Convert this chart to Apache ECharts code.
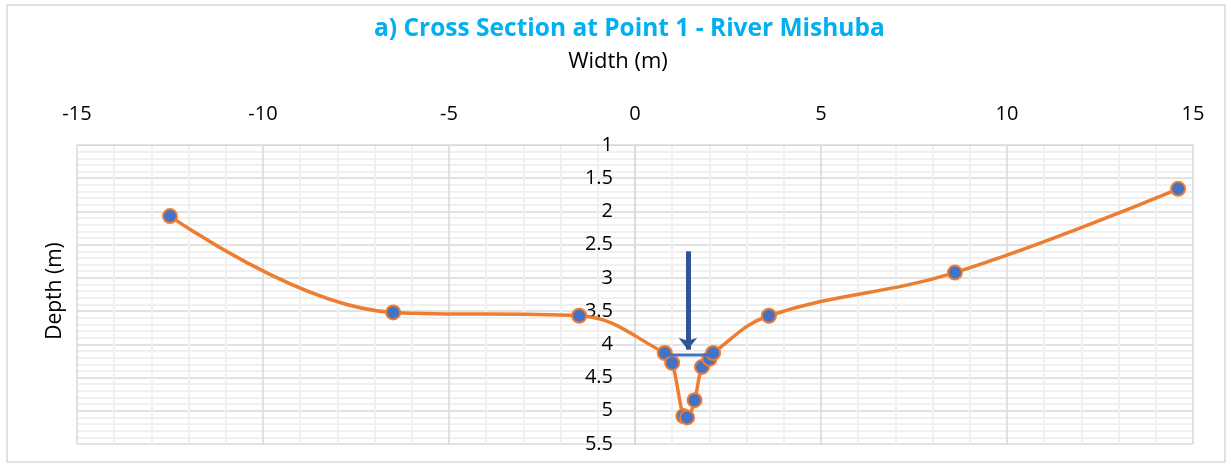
<!DOCTYPE html>
<html>
<head>
<meta charset="utf-8">
<script src="https://cdn.jsdelivr.net/npm/echarts@6/dist/echarts.min.js"></script>
<style>
  html, body { margin: 0; padding: 0; background: #fff; }
  #chart { width: 1231px; height: 468px; }
</style>
</head>
<body>
<div id="chart"></div>
<script>
// cross section survey points
var widthM = [-12.5, -6.5, -1.5, 0.8, 1.0, 1.3, 1.4, 1.6, 1.8, 2.0, 2.1, 3.6, 8.6, 14.6];
var depthM = [2.07, 3.52, 3.57, 4.13, 4.28, 5.08, 5.1, 4.84, 4.34, 4.22, 4.13, 3.57, 2.92, 1.66];
// water level line and arrow
var waterX = [0.8, 2.1];
var waterDepth = 4.16;
var arrowX = 1.42;
var arrowFrom = 2.6;
var arrowTo = 4.08;

var chart = echarts.init(document.getElementById('chart'));

var profile = widthM.map(function (x, i) { return [x, depthM[i]]; });
var water = waterX.map(function (x) { return [x, waterDepth]; });

var option = {
  animation: false,
  title: {
    text: 'a) Cross Section at Point 1 - River Mishuba',
    left: 369,
    top: 12,
    textStyle: {
      color: '#00B0F0',
      fontFamily: 'Open Sans',
      fontWeight: 'bold',
      fontSize: 24.5
    }
  },
  graphic: [
    {
      type: 'rect',
      shape: { x: 7, y: 5, width: 1218, height: 457 },
      style: { fill: 'none', stroke: '#d9d9d9', lineWidth: 1.5 }
    },
    {
      type: 'text',
      x: 618,
      y: 62,
      style: {
        text: 'Width (m)',
        fill: '#000',
        font: '22px "Open Sans"',
        align: 'center',
        verticalAlign: 'middle'
      }
    },
    {
      type: 'text',
      x: 55,
      y: 291,
      rotation: Math.PI / 2,
      style: {
        text: 'Depth (m)',
        fill: '#000',
        font: '21px "Open Sans"',
        align: 'center',
        verticalAlign: 'middle'
      }
    }
  ],
  grid: {
    left: 77,
    right: 38,
    top: 145,
    bottom: 24
  },
  xAxis: {
    type: 'value',
    position: 'top',
    min: -15,
    max: 15,
    interval: 5,
    axisLine: { show: true, lineStyle: { color: '#d9d9d9' } },
    axisTick: { show: false },
    axisLabel: { color: '#000', fontSize: 20, fontFamily: 'Open Sans', margin: 21 },
    splitLine: { show: true, lineStyle: { color: '#d9d9d9', width: 1.5 } },
    minorTick: { show: false, splitNumber: 5 },
    minorSplitLine: { show: true, lineStyle: { color: '#f0f0f0', width: 2 } }
  },
  yAxis: {
    type: 'value',
    inverse: true,
    min: 1,
    max: 5.5,
    interval: 0.5,
    position: 'left',
    offset: -558,
    axisLine: { show: true, onZero: false, lineStyle: { color: '#d9d9d9', width: 1.5 } },
    axisTick: { show: false },
    axisLabel: { color: '#000', fontSize: 20, fontFamily: 'Open Sans', margin: 22 },
    splitLine: { show: true, lineStyle: { color: '#d9d9d9', width: 1.5 } },
    minorTick: { show: false, splitNumber: 5 },
    minorSplitLine: { show: true, lineStyle: { color: '#f0f0f0', width: 2 } }
  },
  series: [
    {
      name: 'Water level',
      type: 'line',
      data: water,
      symbol: 'none',
      z: 3,
      lineStyle: { color: '#4472C4', width: 3 },
      markLine: {
        silent: true,
        symbol: ['none', 'arrow'],
        symbolSize: [14, 12],
        label: { show: false },
        lineStyle: { color: '#2F5597', width: 5, type: 'solid' },
        data: [[{ coord: [arrowX, arrowFrom] }, { coord: [arrowX, arrowTo] }]]
      }
    },
    {
      name: 'Bed profile',
      type: 'line',
      data: profile,
      smooth: 0.4,
      z: 2,
      symbol: 'circle',
      symbolSize: 14,
      lineStyle: { color: '#ED7D31', width: 3.5 },
      itemStyle: { color: '#4472C4', borderColor: '#ED7D31', borderWidth: 2 }
    }
  ]
};

chart.setOption(option);
</script>
</body>
</html>
